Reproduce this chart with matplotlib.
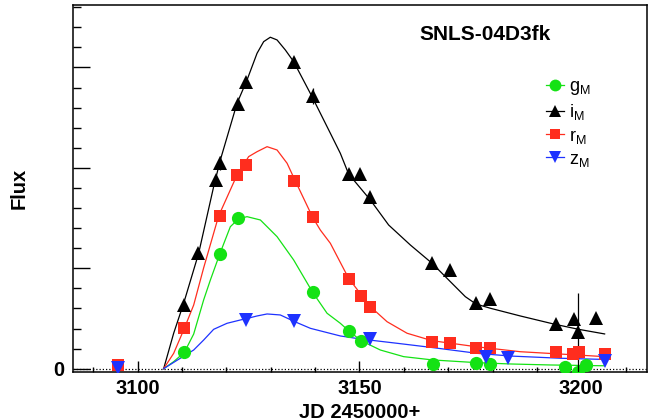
import matplotlib
matplotlib.use('Agg')
import matplotlib.pyplot as plt
from matplotlib.lines import Line2D
from matplotlib.ticker import MultipleLocator, FixedLocator

plt.rcParams['font.family'] = ['Liberation Sans', 'DejaVu Sans']
plt.rcParams['mathtext.default'] = 'regular'

# ---- photometric points (JD - 2450000, flux in arbitrary units) ----
g_jd = [3110.53, 3118.48, 3122.54, 3139.44, 3147.55, 3150.35, 3166.48,
        3176.28, 3179.42, 3196.40, 3199.25, 3201.12]
g_flux = [0.163, 1.139, 1.501, 0.761, 0.378, 0.279, 0.050,
          0.057, 0.049, 0.020, -0.031, 0.037]

i_jd = [3110.37, 3113.52, 3117.58, 3118.48, 3122.54, 3124.50, 3135.32,
        3139.44, 3147.55, 3150.19, 3152.45, 3166.35, 3170.31, 3176.26,
        3179.34, 3194.37, 3198.36, 3199.25, 3203.31]
i_flux = [0.634, 1.149, 1.880, 2.046, 2.633, 2.859, 3.058,
          2.716, 1.939, 1.939, 1.707, 1.056, 0.983, 0.659,
          0.691, 0.445, 0.497, 0.361, 0.502]
i_err = [0.04, 0.05, 0.05, 0.07, 0.05, 0.05, 0.05,
         0.08, 0.05, 0.05, 0.05, 0.04, 0.04, 0.04,
         0.04, 0.04, 0.04, 0.39, 0.04]

r_jd = [3095.49, 3110.53, 3118.48, 3122.40, 3124.50, 3135.32, 3139.44,
        3147.55, 3150.35, 3152.45, 3166.35, 3170.31, 3176.26, 3179.34,
        3194.37, 3198.13, 3199.39, 3205.41]
r_flux = [0.037, 0.402, 1.518, 1.929, 2.029, 1.873, 1.508,
          0.896, 0.724, 0.615, 0.269, 0.253, 0.203, 0.203,
          0.169, 0.146, 0.169, 0.143]

z_jd = [3095.49, 3124.50, 3135.32, 3152.29, 3178.43, 3183.39, 3205.25]
z_flux = [0.007, 0.485, 0.478, 0.293, 0.114, 0.110, 0.080]

# ---- model light curves ----
i_mod_jd = [3105.86, 3106.63, 3108.12, 3110.37, 3113.75, 3117.13, 3118.64,
            3122.40, 3124.65, 3126.91, 3128.40, 3129.90, 3131.42, 3133.29,
            3135.16, 3139.31, 3143.43, 3145.68, 3147.55, 3152.45, 3156.57,
            3161.46, 3166.35, 3170.47, 3173.86, 3176.26, 3179.49, 3186.25,
            3193.76, 3199.39, 3205.25]
i_mod = [0.0, 0.12, 0.353, 0.651, 1.149, 1.813, 2.079,
         2.643, 2.875, 3.141, 3.257, 3.301, 3.274, 3.174,
         3.058, 2.709, 2.345, 2.145, 1.939, 1.680, 1.431,
         1.232, 1.050, 0.867, 0.717, 0.644, 0.602, 0.525,
         0.445, 0.392, 0.346]

r_mod_jd = [3105.86, 3108.12, 3110.53, 3112.63, 3114.87, 3118.25, 3122.40,
            3125.02, 3126.91, 3129.17, 3131.42, 3133.68, 3135.32, 3139.44,
            3141.17, 3143.43, 3147.55, 3152.45, 3156.21, 3160.72, 3166.35,
            3176.26, 3186.25, 3195.26, 3205.25]
r_mod = [0.0, 0.153, 0.402, 0.634, 1.003, 1.521, 1.929,
         2.112, 2.161, 2.211, 2.178, 2.046, 1.890, 1.508,
         1.381, 1.249, 0.900, 0.618, 0.468, 0.353, 0.279,
         0.219, 0.169, 0.146, 0.120]

g_mod_jd = [3105.86, 3108.12, 3110.53, 3112.63, 3114.87, 3116.39, 3118.48,
            3120.89, 3122.69, 3124.65, 3127.66, 3131.42, 3135.16, 3139.44,
            3142.69, 3145.68, 3147.55, 3150.35, 3154.70, 3159.95, 3166.48,
            3176.49, 3184.00, 3192.99, 3205.25]
g_mod = [0.0, 0.07, 0.163, 0.345, 0.684, 0.883, 1.139,
         1.414, 1.491, 1.514, 1.481, 1.315, 1.083, 0.761,
         0.552, 0.452, 0.378, 0.279, 0.186, 0.120, 0.087,
         0.060, 0.047, 0.037, 0.029]

z_mod_jd = [3105.86, 3109.62, 3112.63, 3114.87, 3117.13, 3120.14, 3123.15,
            3124.65, 3126.91, 3129.17, 3132.16, 3135.32, 3138.93, 3145.68,
            3150.19, 3158.46, 3165.97, 3176.49, 3184.00, 3195.26, 3205.25]
z_mod = [0.0, 0.104, 0.186, 0.285, 0.392, 0.452, 0.485,
         0.500, 0.525, 0.545, 0.535, 0.470, 0.402, 0.326,
         0.296, 0.253, 0.213, 0.153, 0.126, 0.104, 0.092]

GREEN = '#14e214'
RED = '#ff2d1e'
BLUE = '#1e32ff'
BLACK = 'black'

fig = plt.figure(figsize=(6.48, 4.18), dpi=100)
ax = fig.add_axes([73 / 648, 46 / 418, 574 / 648, 367 / 418])

# dotted zero line
ax.axhline(0, color='black', lw=0.9, ls=(0, (1, 1.6)), zorder=1)

# model curves
ax.plot(g_mod_jd, g_mod, color=GREEN, lw=0.9, zorder=2)
ax.plot(i_mod_jd, i_mod, color=BLACK, lw=0.9, zorder=2)
ax.plot(r_mod_jd, r_mod, color=RED, lw=0.9, zorder=2)
ax.plot(z_mod_jd, z_mod, color=BLUE, lw=0.9, zorder=2)

ms = 9.5
ax.plot(g_jd, g_flux, 'o', color=GREEN, ms=ms, mew=0, zorder=3)
ax.errorbar(i_jd, i_flux, yerr=i_err, fmt='^', color=BLACK, ms=ms, mew=0,
            elinewidth=0.9, capsize=3, capthick=0.9, zorder=4)
ax.plot(r_jd, r_flux, 's', color=RED, ms=ms * 0.92, mew=0, zorder=5)
ax.plot(z_jd, z_flux, 'v', color=BLUE, ms=ms, mew=0, zorder=6)

ax.set_xlim(3085.43, 3214.80)
ax.set_ylim(-0.033, 3.622)

# axes styling (ROOT look)
for side in ['left', 'bottom', 'top', 'right']:
    ax.spines[side].set_linewidth(1.1)
ax.xaxis.set_major_locator(FixedLocator([3100, 3150, 3200]))
ax.xaxis.set_minor_locator(MultipleLocator(10))
ax.yaxis.set_major_locator(FixedLocator([0, 1, 2, 3]))
ax.yaxis.set_minor_locator(MultipleLocator(0.2))
ax.set_yticklabels(['0', '', '', ''])
ax.tick_params(axis='x', which='major', direction='in', length=8, width=1,
               labelsize=14.5, pad=5)
ax.tick_params(axis='x', which='minor', direction='in', length=3.6, width=1)
ax.tick_params(axis='y', which='major', direction='in', length=12, width=1,
               labelsize=14.5, pad=6)
ax.tick_params(axis='y', which='minor', direction='in', length=6, width=1)
for lab in ax.get_xticklabels() + ax.get_yticklabels():
    lab.set_fontweight('bold')

ax.set_xlabel('JD 2450000+', fontsize=14.5, fontweight='bold')
ax.set_ylabel('Flux', fontsize=14.5, fontweight='bold')
ax.xaxis.set_label_coords(0.5, -0.084)
ax.yaxis.set_label_coords(-0.077, 0.5)

ax.text(0.718, 0.92, 'SNLS-04D3fk', transform=ax.transAxes, ha='center',
        va='center', fontsize=15, fontweight='bold')

handles = [
    Line2D([], [], color=GREEN, marker='o', ms=8.5, mew=0, lw=0.9),
    Line2D([], [], color=BLACK, marker='^', ms=8, mew=0, lw=0.9),
    Line2D([], [], color=RED, marker='s', ms=7.5, mew=0, lw=0.9),
    Line2D([], [], color=BLUE, marker='v', ms=8, mew=0, lw=0.9),
]
labels = ['$g_M$', '$i_M$', '$r_M$', '$z_M$']
ax.legend(handles, labels, loc='upper left', bbox_to_anchor=(0.824, 0.800),
          frameon=False, fontsize=13, handlelength=1.0, handletextpad=0.3,
          labelspacing=0.28, borderpad=0, borderaxespad=0)

fig.savefig('out.png', dpi=100)
